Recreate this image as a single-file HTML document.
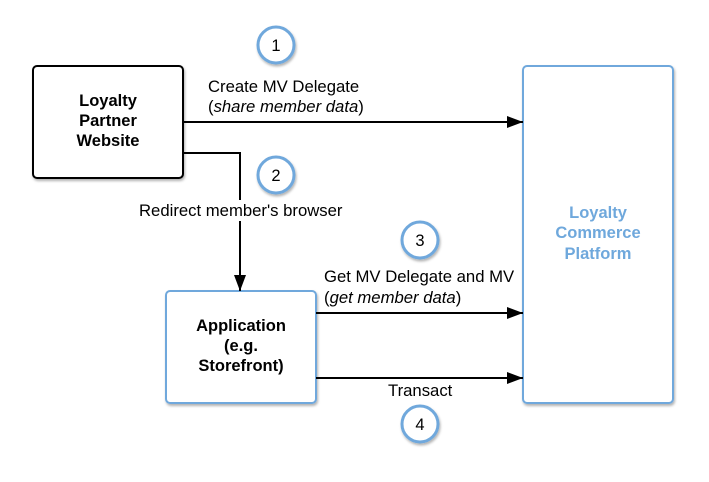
<!DOCTYPE html>
<html><head><meta charset="utf-8"><style>
body{margin:0;background:#fff}
text{font-family:"Liberation Sans",sans-serif}
</style></head><body>
<svg width="709" height="477" xmlns="http://www.w3.org/2000/svg">
<defs>
<marker id="a" markerWidth="16" markerHeight="12" refX="16" refY="6" orient="auto" markerUnits="userSpaceOnUse"><path d="M0,0 L16,6 L0,12 z" fill="#000"/></marker>
<filter id="s" x="-20%" y="-20%" width="150%" height="150%"><feDropShadow dx="1" dy="2" stdDeviation="1.2" flood-color="#000" flood-opacity="0.3"/></filter>
</defs>
<g filter="url(#s)">
<rect x="33" y="66" width="150" height="112" rx="4" fill="#fff" stroke="#000" stroke-width="2"/>
<rect x="166" y="291" width="150" height="112" rx="4" fill="#fff" stroke="#6fa8dc" stroke-width="2"/>
<rect x="523" y="66" width="150" height="337" rx="4" fill="#fff" stroke="#6fa8dc" stroke-width="2"/>
<circle cx="276" cy="45" r="18" fill="#fff" stroke="#6fa8dc" stroke-width="3"/>
<circle cx="276" cy="175" r="18" fill="#fff" stroke="#6fa8dc" stroke-width="3"/>
<circle cx="420" cy="240" r="18" fill="#fff" stroke="#6fa8dc" stroke-width="3"/>
<circle cx="420" cy="424" r="18" fill="#fff" stroke="#6fa8dc" stroke-width="3"/>
</g>
<g stroke="#000" stroke-width="2" fill="none">
<line x1="183" y1="122" x2="523" y2="122" marker-end="url(#a)"/>
<path d="M183,153 H240 V291" marker-end="url(#a)"/>
<line x1="316" y1="313" x2="523" y2="313" marker-end="url(#a)"/>
<line x1="316" y1="378" x2="523" y2="378" marker-end="url(#a)"/>
</g>
<rect x="137" y="200" width="210" height="21" fill="#fff"/>
<g font-size="16.5" text-anchor="middle">
<text x="276" y="51">1</text><text x="276" y="181">2</text>
<text x="420" y="246">3</text><text x="420" y="430">4</text>
</g>
<g font-size="16.5" font-weight="bold" text-anchor="middle">
<text x="108" y="106">Loyalty</text><text x="108" y="126">Partner</text><text x="108" y="146">Website</text>
<text x="241" y="331">Application</text><text x="241" y="351">(e.g.</text><text x="241" y="371">Storefront)</text>
<g fill="#6fa8dc"><text x="598" y="218">Loyalty</text><text x="598" y="238">Commerce</text><text x="598" y="259">Platform</text></g>
</g>
<g font-size="16.7">
<text x="208" y="92">Create MV Delegate</text>
<text x="208" y="112">(<tspan font-style="italic">share member data</tspan>)</text>
<text x="139" y="216">Redirect member's browser</text>
<text x="324" y="282">Get MV Delegate and MV</text>
<text x="324" y="303">(<tspan font-style="italic">get member data</tspan>)</text>
<text x="388" y="396">Transact</text>
</g>
</svg>
</body></html>
